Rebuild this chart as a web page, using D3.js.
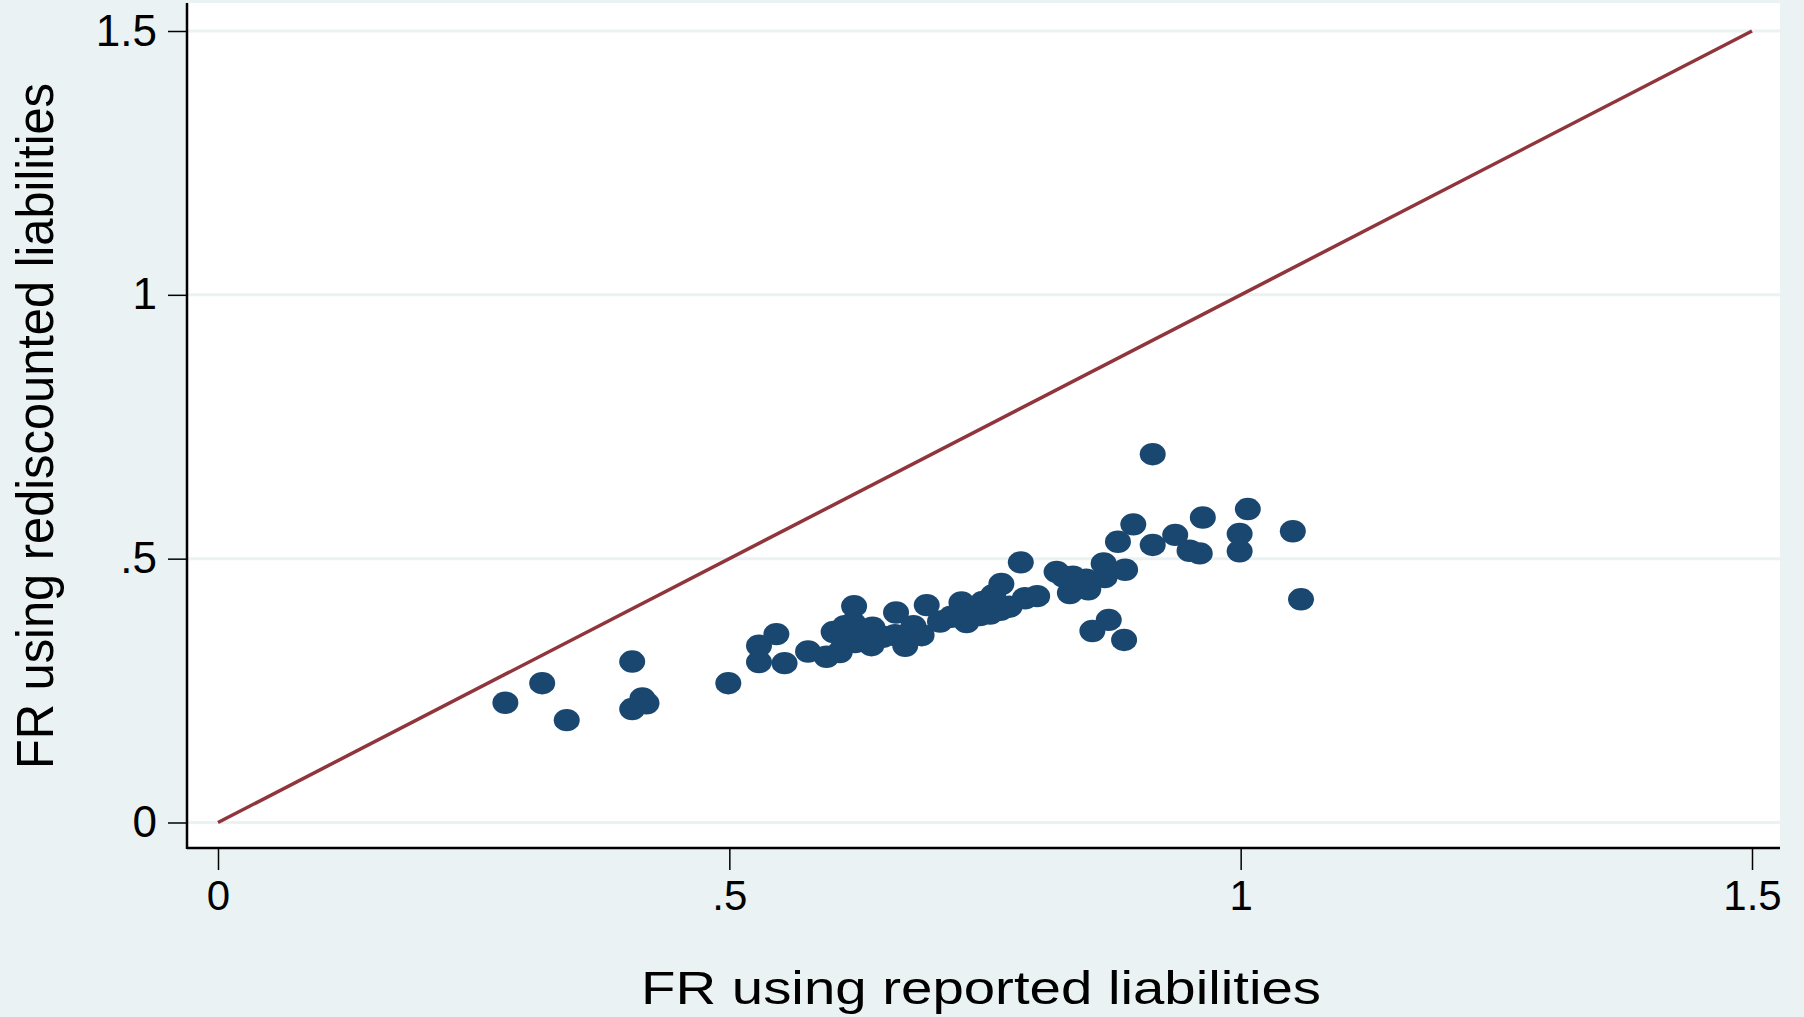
<!DOCTYPE html>
<html>
<head>
<meta charset="utf-8">
<script src="https://cdn.jsdelivr.net/npm/d3@7"></script>
<style>
  html, body { margin: 0; padding: 0; background: #EAF2F3; }
  svg { display: block; font-family: "Liberation Sans", Arial, sans-serif; }
</style>
</head>
<body>
<div id="chart"></div>
<script>
// FR using reported liabilities (x) vs FR using rediscounted liabilities (y)
var frReported = [
	0.281, 0.317, 0.341, 0.405, 0.405, 0.415, 0.419, 0.499, 0.529, 0.529,
	0.546, 0.554, 0.577, 0.595, 0.602, 0.613, 0.621, 0.640, 0.623, 0.639,
	0.608, 0.622, 0.663, 0.662, 0.672, 0.688, 0.693, 0.706, 0.727, 0.732,
	0.755, 0.758, 0.766, 0.785, 0.789, 0.801, 0.820, 0.833, 0.836, 0.851,
	0.866, 0.867, 0.887, 0.880, 0.895, 0.914, 0.936, 0.950, 0.960, 0.963,
	0.999, 0.999, 1.007, 1.051, 1.059, 0.914, 0.855, 0.871, 0.886, 0.650,
	0.717, 0.745, 0.748, 0.774, 0.765, 0.827, 0.849, 0.612, 0.631, 0.680
];
var frRediscounted = [
	0.227, 0.264, 0.194, 0.305, 0.215, 0.235, 0.226, 0.264, 0.335, 0.304,
	0.357, 0.302, 0.324, 0.314, 0.361, 0.372, 0.378, 0.369, 0.342, 0.336,
	0.323, 0.410, 0.398, 0.355, 0.335, 0.355, 0.412, 0.381, 0.417, 0.380,
	0.396, 0.431, 0.452, 0.493, 0.425, 0.429, 0.475, 0.435, 0.466, 0.442,
	0.491, 0.465, 0.479, 0.532, 0.565, 0.526, 0.545, 0.515, 0.510, 0.578,
	0.547, 0.514, 0.594, 0.552, 0.423, 0.698, 0.363, 0.384, 0.346, 0.352,
	0.390, 0.393, 0.418, 0.409, 0.403, 0.466, 0.460, 0.345, 0.352, 0.372
];
var xTicks = [0, 0.5, 1, 1.5];
var xTickLabels = ['0', '.5', '1', '1.5'];
var yTicks = [0, 0.5, 1, 1.5];
var yTickLabels = ['0', '.5', '1', '1.5'];
var refLine = [0, 1.5]; // 45 degree line

var W = 1804, H = 1017,
	plot = {left: 187, right: 1780, top: 3, bottom: 848},
	navy = '#1A476F', maroon = '#90353B', grid = '#EAF2F3';

var x = d3.scaleLinear().domain([0, 1.5]).range([218, 1752]),
	y = d3.scaleLinear().domain([0, 1.5]).range([822.5, 31]);

var svg = d3.select('#chart').append('svg')
	.attr('width', W).attr('height', H);

svg.append('rect').attr('width', W).attr('height', H).attr('fill', '#EAF2F3');

// plot region
svg.append('rect')
	.attr('x', plot.left).attr('y', plot.top)
	.attr('width', plot.right - plot.left).attr('height', plot.bottom - plot.top)
	.attr('fill', '#fff');

// horizontal grid lines
svg.append('g').selectAll('line').data(yTicks).enter().append('line')
	.attr('x1', plot.left + 1).attr('x2', plot.right)
	.attr('y1', function (d) {return y(d);}).attr('y2', function (d) {return y(d);})
	.attr('stroke', grid).attr('stroke-width', 3);

// y axis
var yAxis = d3.axisLeft(y).tickValues(yTicks).tickSize(19).tickPadding(11)
	.tickFormat(function (d, i) {return yTickLabels[i];});
var gy = svg.append('g').attr('transform', 'translate(' + plot.left + ',0)').call(yAxis);
gy.select('.domain').remove();
gy.selectAll('.tick line').attr('stroke', '#000').attr('stroke-width', 1.5);
gy.selectAll('.tick text').attr('font-size', 44).attr('fill', '#000')
	.attr('font-family', '"Liberation Sans", Arial, sans-serif');

// x axis
var xAxis = d3.axisBottom(x).tickValues(xTicks).tickSize(22).tickPadding(10)
	.tickFormat(function (d, i) {return xTickLabels[i];});
var gx = svg.append('g').attr('transform', 'translate(0,' + plot.bottom + ')').call(xAxis);
gx.select('.domain').remove();
gx.selectAll('.tick line').attr('stroke', '#000').attr('stroke-width', 1.5);
gx.selectAll('.tick text').attr('font-size', 42).attr('fill', '#000')
	.attr('font-family', '"Liberation Sans", Arial, sans-serif');

// axis lines
svg.append('line').attr('x1', plot.left).attr('x2', plot.left)
	.attr('y1', plot.top).attr('y2', plot.bottom + 1)
	.attr('stroke', '#000').attr('stroke-width', 2.5);
svg.append('line').attr('x1', plot.left).attr('x2', plot.right)
	.attr('y1', plot.bottom).attr('y2', plot.bottom)
	.attr('stroke', '#000').attr('stroke-width', 2.5);

// reference line y = x
svg.append('line')
	.attr('x1', x(refLine[0])).attr('y1', y(refLine[0]))
	.attr('x2', x(refLine[1])).attr('y2', y(refLine[1]))
	.attr('stroke', maroon).attr('stroke-width', 3.5);

// points
svg.append('g').selectAll('ellipse').data(frReported).enter().append('ellipse')
	.attr('cx', function (d) {return x(d);})
	.attr('cy', function (d, i) {return y(frRediscounted[i]);})
	.attr('rx', 13).attr('ry', 11.2)
	.attr('fill', navy);

// axis titles
svg.append('text')
	.attr('x', 981).attr('y', 1004)
	.attr('text-anchor', 'middle')
	.attr('font-size', 46)
	.attr('textLength', 680).attr('lengthAdjust', 'spacingAndGlyphs')
	.text('FR using reported liabilities');

svg.append('text')
	.attr('transform', 'translate(53,426) rotate(-90)')
	.attr('text-anchor', 'middle')
	.attr('font-size', 52)
	.attr('textLength', 686).attr('lengthAdjust', 'spacingAndGlyphs')
	.text('FR using rediscounted liabilities');
</script>
</body>
</html>
